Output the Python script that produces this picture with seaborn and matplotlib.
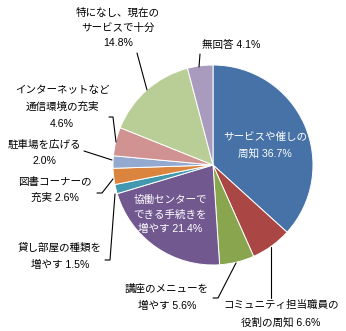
import matplotlib
matplotlib.use("Agg")
import matplotlib.pyplot as plt
import seaborn as sns

sns.set_theme(style="white")
plt.rcParams['font.family'] = ['Liberation Sans', 'Noto Sans CJK JP', 'DejaVu Sans']

# ---- data ----
categories = [
    "サービスや催しの\n周知",
    "コミュニティ担当職員の\n役割の周知",
    "講座のメニューを\n増やす",
    "協働センターで\nできる手続きを\n増やす",
    "貸し部屋の種類を\n増やす",
    "図書コーナーの\n充実",
    "駐車場を広げる",
    "インターネットなど\n通信環境の充実",
    "特になし、現在の\nサービスで十分",
    "無回答",
]
values = [36.7, 6.6, 5.6, 21.4, 1.5, 2.6, 2.0, 4.6, 14.8, 4.1]
pct_sep = [" ", " ", " ", " ", " ", " ", "\n", "\n", "\n", " "]
colors = ["#4672A8", "#AA4643", "#89A54E", "#71588F", "#4198AF",
          "#DB843D", "#93A9CF", "#D19392", "#B9CD96", "#A99BBD"]

# ---- layout (pixel coords, y from top) ----
W, H = 346, 331
cx, cy, R = 213, 165, 100
label_pos = [  # x center, first line y, line step, text colour
    (265, 137, 16, "white"),
    (281, 305, 17, "black"),
    (167, 289, 17, "black"),
    (170, 200, 14.5, "white"),
    (60, 248, 17, "black"),
    (55, 182, 15.5, "black"),
    (44, 145, 15.5, "black"),
    (62, 90, 17, "black"),
    (118, 13, 15, "black"),
    (231, 45, 15, "black"),
]
leaders = [
    None,
    [(271, 298), (271, 247)],
    [(213, 298), (218, 298), (236, 263)],
    None,
    [(105, 260), (110, 260), (115, 194)],
    [(97, 193), (102, 193), (113, 179)],
    [(84, 151), (112, 160)],
    [(109, 117), (113, 117), (116, 142)],
    [(137, 53), (147, 90)],
    [(200, 54), (199, 67)],
]

fig = plt.figure(figsize=(W / 100, H / 100), dpi=100)
ax = fig.add_axes([0, 0, 1, 1])
ax.set_xlim(0, W)
ax.set_ylim(0, H)
ax.set_aspect("equal")
ax.axis("off")

ax.pie(values, colors=colors, startangle=90, counterclock=False,
       center=(cx, H - cy), radius=R, frame=True,
       wedgeprops=dict(edgecolor="white", linewidth=0.7))
ax.set_xlim(0, W)
ax.set_ylim(0, H)
ax.axis("off")

for cat, v, sep, (lx, ly, step, col) in zip(categories, values, pct_sep, label_pos):
    text = f"{cat}{sep}{v:.1f}%"
    for i, line in enumerate(text.split("\n")):
        ax.text(lx, H - (ly + i * step), line, ha="center", va="center",
                fontsize=7.6, color=col)

for pts in leaders:
    if pts:
        xs = [p[0] for p in pts]
        ys = [H - p[1] for p in pts]
        ax.plot(xs, ys, color="black", lw=0.8)

fig.savefig("out.png", dpi=100, facecolor="white")
